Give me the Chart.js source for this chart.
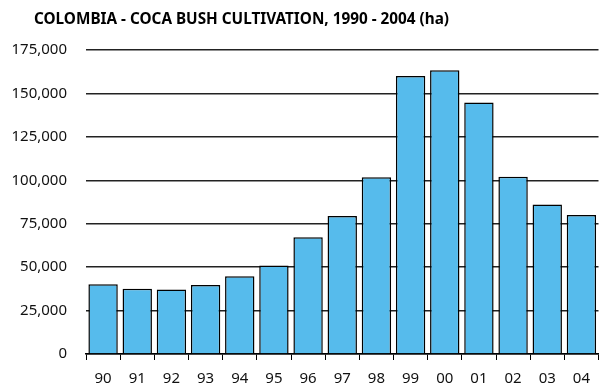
<!DOCTYPE html>
<html>
<head>
<meta charset="utf-8">
<script src="https://cdn.jsdelivr.net/npm/chart.js@4.4.1/dist/chart.umd.min.js"></script>
<style>
  html, body { margin: 0; padding: 0; background: #ffffff; }
  #wrap { width: 600px; height: 388px; position: relative; }
</style>
</head>
<body>
<div id="wrap"><canvas id="c" width="600" height="388"></canvas></div>
<script>
// Coca bush cultivation in Colombia, hectares
const years = ['90', '91', '92', '93', '94', '95', '96', '97', '98', '99', '00', '01', '02', '03', '04'];
const hectares = [40100, 37500, 37100, 39700, 44700, 50900, 67200, 79400, 101800, 160100, 163300, 144800, 102000, 86000, 80000];
const yTicks = [0, 25000, 50000, 75000, 100000, 125000, 150000, 175000];
const titleText = 'COLOMBIA - COCA BUSH CULTIVATION, 1990 - 2004 (ha)';

const fontFamily = '"Noto Sans", "Open Sans", sans-serif';

// Title drawn from the canvas left margin rather than the plot area
const headingPlugin = {
  id: 'heading',
  afterDraw(chart) {
    const ctx = chart.ctx;
    ctx.save();
    ctx.font = 'bold 15.3px ' + fontFamily;
    ctx.fillStyle = '#000000';
    ctx.textAlign = 'left';
    ctx.textBaseline = 'middle';
    ctx.fillText(titleText, 34, 20);
    ctx.restore();
  }
};

new Chart(document.getElementById('c'), {
  type: 'bar',
  data: {
    labels: years,
    datasets: [{
      data: hectares,
      backgroundColor: '#56BBEC',
      borderColor: '#000000',
      borderWidth: 1.5,
      categoryPercentage: 1.0,
      barPercentage: 0.86
    }]
  },
  options: {
    responsive: false,
    animation: false,
    devicePixelRatio: 1,
    layout: { padding: { left: 0, right: 0, top: 50, bottom: 0 } },
    plugins: {
      legend: { display: false },
      tooltip: { enabled: false },
      title: { display: false }
    },
    scales: {
      x: {
        afterFit: (scale) => { scale.height = 34; },
        grid: {
          display: true,
          offset: true,
          drawOnChartArea: false,
          drawTicks: true,
          tickLength: 6,
          color: '#000000',
          lineWidth: 1
        },
        border: { display: true, color: '#000000', width: 1.5 },
        ticks: {
          color: '#111111',
          padding: 10,
          maxRotation: 0,
          font: { family: fontFamily, size: 15 }
        }
      },
      y: {
        min: 0,
        max: 175000,
        afterBuildTicks: (scale) => { scale.ticks = yTicks.map(v => ({ value: v })); },
        afterFit: (scale) => { scale.width = 86; },
        grid: {
          color: '#222222',
          lineWidth: 1.5,
          drawTicks: false
        },
        border: { display: false },
        ticks: {
          color: '#111111',
          padding: 19,
          font: { family: fontFamily, size: 15 },
          callback: (v) => v.toLocaleString('en-US')
        }
      }
    }
  },
  plugins: [headingPlugin]
});
</script>
</body>
</html>
